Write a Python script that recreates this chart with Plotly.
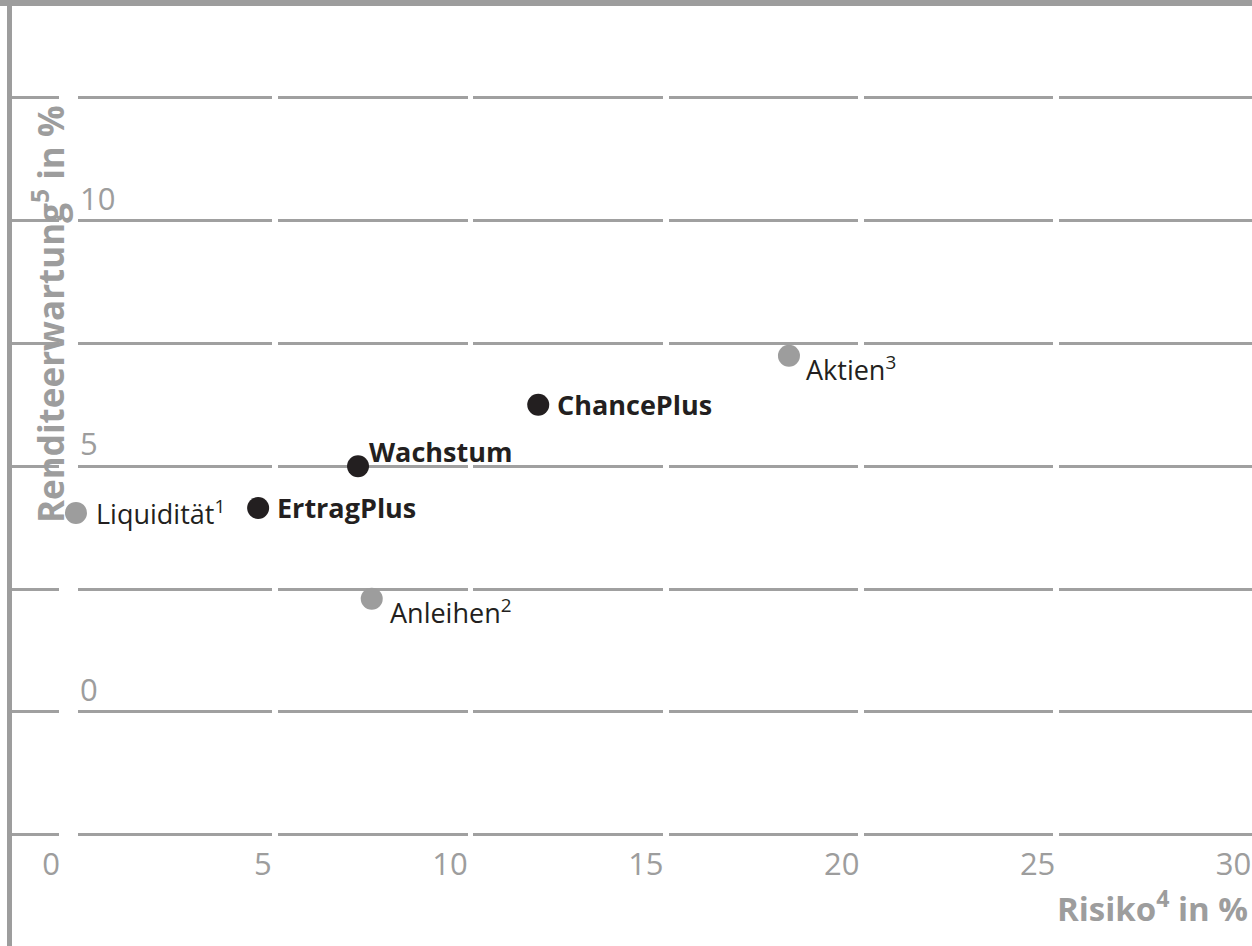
import plotly.graph_objects as go

# ---- data ----
bench_names = ["Liquidität<sup>1</sup>", "Anleihen<sup>2</sup>", "Aktien<sup>3</sup>"]
bench_risk = [0.0, 7.55, 18.2]
bench_return = [4.05, 2.3, 7.25]

port_names = ["ErtragPlus", "Wachstum", "ChancePlus"]
port_risk = [4.65, 7.2, 11.8]
port_return = [4.15, 5.0, 6.25]

x_ticks = [0, 5, 10, 15, 20, 25, 30]
x_ticktext = ["0\u00a0\u00a0", "5", "10", "15", "20", "25", "30"]
y_ticks = [0, 5, 10]
y_ticktext = ["0", "5", "10"]
y_minor_grid = [-2.5, 2.5, 7.5, 12.5]

x_title = "Risiko<sup>4</sup> in %"
y_title = "Renditeerwartung<sup>5</sup> in %"

# ---- style ----
W, H = 1252, 946
ML, MR, MT, MB = 12, 0, 6, 106
PW, PH = W - ML - MR, H - MT - MB
GRAY = "#9d9d9d"
GRID = "#a0a0a0"
DARK = "#231f20"
FONT = "Open Sans"
DASH = "47px,19px,194px,6px,190px,5px,190px,6px,189px,6px,189px,6px,400px"

def px_x(p):
    return (p - ML) / PW

def px_y(p):
    return (H - MB - p) / PH

fig = go.Figure()
fig.add_trace(go.Scatter(x=bench_risk, y=bench_return, mode="markers",
                         marker=dict(size=22, color=GRAY), hoverinfo="skip",
                         showlegend=False, cliponaxis=False))
fig.add_trace(go.Scatter(x=port_risk, y=port_return, mode="markers",
                         marker=dict(size=22, color=DARK), hoverinfo="skip",
                         showlegend=False, cliponaxis=False))

annotations = []
bench_shift = [(18, 0), (16, -13), (15, -13)]
for name, xv, yv, (dx, dy) in zip(bench_names, bench_risk, bench_return, bench_shift):
    annotations.append(dict(x=xv, y=yv, xref="x", yref="y", text=name, showarrow=False,
                            xanchor="left", yanchor="middle", xshift=dx, yshift=dy,
                            font=dict(family=FONT, size=27, color=DARK)))
port_shift = [(17, 0), (9, 15), (17, 0)]
for name, xv, yv, (dx, dy) in zip(port_names, port_risk, port_return, port_shift):
    annotations.append(dict(x=xv, y=yv, xref="x", yref="y", text="<b>%s</b>" % name,
                            showarrow=False, xanchor="left", yanchor="middle",
                            xshift=dx, yshift=dy,
                            font=dict(family=FONT, size=27, color=DARK)))

annotations.append(dict(x=px_x(1250), y=px_y(906), xref="paper", yref="paper",
                        text="<b>%s</b>" % x_title, showarrow=False,
                        xanchor="right", yanchor="middle",
                        font=dict(family=FONT, size=33, color=GRAY)))
annotations.append(dict(x=px_x(48), y=px_y(315), xref="paper", yref="paper",
                        text="<b>%s</b>" % y_title, showarrow=False, textangle=-90,
                        xanchor="center", yanchor="middle",
                        font=dict(family=FONT, size=35, color=GRAY)))

shapes = [
    dict(type="rect", xref="paper", yref="paper", x0=px_x(0), x1=px_x(W),
         y0=px_y(0), y1=px_y(6), fillcolor=GRAY, line=dict(width=0), layer="above"),
    dict(type="rect", xref="paper", yref="paper", x0=px_x(7), x1=px_x(12),
         y0=px_y(0), y1=px_y(H), fillcolor=GRAY, line=dict(width=0), layer="above"),
]

fig.update_layout(
    width=W, height=H,
    margin=dict(l=ML, r=MR, t=MT, b=MB, pad=0),
    paper_bgcolor="white", plot_bgcolor="white",
    font=dict(family=FONT, color=GRAY),
    annotations=annotations, shapes=shapes,
    xaxis=dict(range=[-1.633, 30.02], tickvals=x_ticks, ticktext=x_ticktext,
               ticklabelposition="outside left", ticklabelstandoff=3,
               showgrid=False, zeroline=False,
               showline=False, ticks="", tickfont=dict(family=FONT, size=31, color=GRAY),
               fixedrange=True),
    yaxis=dict(range=[-2.61, 14.37], tickvals=y_ticks, ticktext=y_ticktext,
               showgrid=True, gridcolor=GRID, gridwidth=3, griddash=DASH,
               minor=dict(tickmode="array", tickvals=y_minor_grid, showgrid=True,
                          gridcolor=GRID, gridwidth=3, griddash=DASH, ticks=""),
               zeroline=False, showline=False, ticks="", anchor="free", side="right",
               position=px_x(79), ticklabelposition="outside top",
               tickfont=dict(family=FONT, size=31, color=GRAY), fixedrange=True),
)

fig.write_html("out.html", config={"displayModeBar": False},
               post_script="document.body.style.margin='0';")
